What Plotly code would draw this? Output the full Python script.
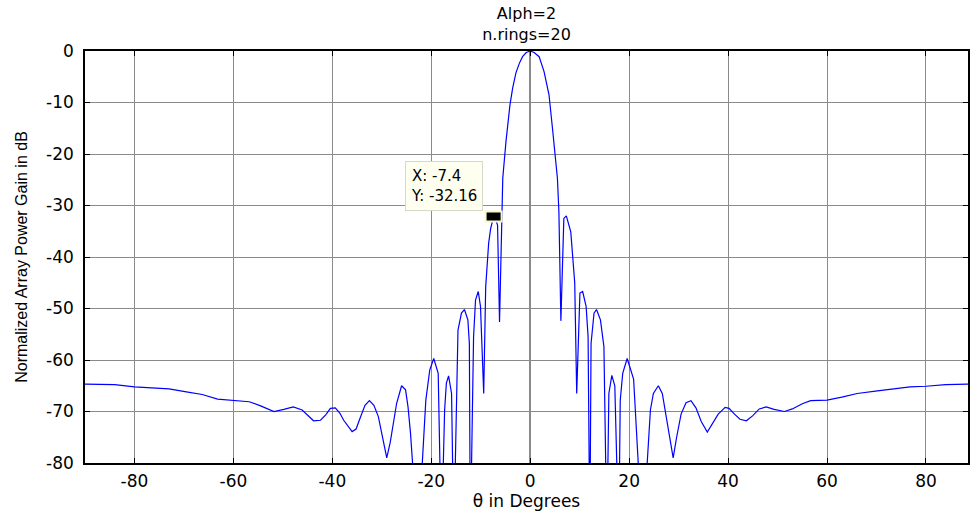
import plotly.graph_objects as go

# Angle (degrees) and normalized array power gain (dB)
theta_left = [-90, -86, -84, -80, -76, -73, -69.5, -66.3, -63.2, -60, -56.8, -54.5,
              -51.8, -49.8, -47.9, -46.1, -44.8, -43.8, -42.4, -41.3, -40.4, -39.4,
              -38.5, -37.7, -36.0, -35.2, -34.4, -33.4, -32.5, -31.6, -30.7, -29.8,
              -29.0, -28.3, -27.6, -27.0, -26.0, -25.2, -24.7, -24.2, -22.7, -21.1,
              -20.3, -19.5, -18.6, -17.95, -17.3, -16.95, -16.5, -15.9, -15.45, -14.8,
              -14.6, -13.9, -13.3, -12.6, -12.3, -12.1, -11.45, -11.05, -10.5, -10.05,
              -9.4, -9.0, -8.4, -8.0, -7.4, -6.9, -6.6, -6.2, -5.8, -5.55, -4.9, -4.1,
              -3.55, -2.9, -2.2, -1.55, -0.8, 0]
gain_left = [-64.7, -64.7, -64.8, -65.2, -65.4, -65.6, -66.2, -66.7, -67.6, -67.8, -68.1, -68.9,
             -70.0, -69.6, -69.1, -69.7, -71.0, -71.8, -71.7, -70.6, -69.4, -69.3,
             -70.3, -71.7, -73.9, -73.4, -71.3, -68.8, -67.9, -68.8, -71.0, -75.5,
             -79.0, -76.0, -71.5, -68.4, -65.0, -65.8, -69.1, -74.2, -95.0, -67.8,
             -61.9, -59.7, -62.6, -95.0, -69.7, -64.5, -63.1, -66.5, -95.0, -57.4,
             -54.2, -50.9, -50.2, -52.2, -56.8, -95.0, -55.5, -48.3, -46.7, -49.6,
             -66.5, -45.8, -37.3, -34.5, -32.16, -33.0, -33.8, -52.6, -31.2, -24.7, -17.6, -10.5,
             -7.2, -4.3, -2.4, -1.1, -0.3, 0.0]

theta_right = [0.8, 1.8, 2.8, 3.8, 4.5, 5.5, 5.8, 6.2, 6.8, 7.3, 8.2, 9.0, 9.4, 10.05,
               10.6, 11.3, 11.7, 12.05, 12.3, 12.9, 13.4, 14.2, 14.9, 15.5, 15.9, 16.5,
               17.1, 17.9, 18.2, 18.7, 19.6, 20.9, 22.7, 24.3, 24.9, 25.9, 26.7, 27.4,
               28.2, 28.9, 29.6, 30.5, 31.5, 32.5, 33.5, 34.6, 35.8, 36.8, 38.0, 39.4,
               40.2, 41.3, 42.4, 43.7, 45.0, 46.3, 47.7, 49.3, 51.4, 53.0, 55.0, 56.7,
               60, 63, 66.1, 70.2, 73.5, 76.8, 80, 84, 88.4, 90]
gain_right = [-0.3, -1.1, -4.0, -8.5, -15.0, -24.7, -31.2, -52.4, -32.5, -32.0, -35.1, -45.0, -66.5, -47.0,
              -46.7, -49.6, -55.5, -95.0, -56.8, -50.9, -50.2, -52.2, -57.4, -95.0, -66.5, -63.0,
              -65.0, -95.0, -67.8, -62.6, -59.7, -63.7, -95.0, -69.7, -66.5, -65.0, -66.5, -70.5,
              -75.5, -79.0, -75.0, -70.5, -68.3, -67.9, -69.3, -72.0, -74.0, -72.5, -70.5, -69.2,
              -69.4, -70.5, -71.5, -71.8, -70.8, -69.5, -69.1, -69.6, -70.0, -69.5, -68.5, -67.9,
              -67.8, -67.2, -66.5, -66.0, -65.6, -65.2, -65.1, -64.8, -64.7, -64.7]

theta = theta_left + theta_right
gain = gain_left + gain_right

tip_x = -7.4
tip_y = -32.16

x_ticks = [-80, -60, -40, -20, 0, 20, 40, 60, 80]
y_ticks = [0, -10, -20, -30, -40, -50, -60, -70, -80]

FONT = "DejaVu Sans, Liberation Sans, Arial, sans-serif"

fig = go.Figure()
fig.add_trace(go.Scatter(x=theta, y=gain, mode="lines",
                         line=dict(color="#0000ff", width=1.2),
                         showlegend=False, hoverinfo="x+y"))

# data tip marker (black box with pale yellow edge)
fig.add_shape(type="rect", xref="x", yref="y", xsizemode="pixel", ysizemode="pixel",
              xanchor=tip_x, yanchor=tip_y, x0=-8, x1=8, y0=-5, y1=5,
              fillcolor="black", line=dict(color="#f7f7c8", width=2))

fig.add_annotation(x=tip_x, y=tip_y, xref="x", yref="y",
                   text=f"X: {tip_x:g}<br>Y: {tip_y:.2f}",
                   showarrow=True, arrowcolor="rgba(0,0,0,0)", ax=-11, ay=-6,
                   xanchor="right", yanchor="bottom", align="left",
                   font=dict(family=FONT, size=15, color="black"),
                   bgcolor="#fffff0", bordercolor="#d8d8c8", borderwidth=1, borderpad=5)

fig.update_layout(
    width=971, height=513,
    margin=dict(l=85, r=1, t=51, b=50),
    paper_bgcolor="white", plot_bgcolor="white",
    font=dict(family=FONT, size=16, color="black"),
    title=dict(text="Alph=2<br>n.rings=20", x=0.5, xref="paper", xanchor="center",
               y=0.962, yref="container", yanchor="top",
               font=dict(family=FONT, size=16, color="black")),
    xaxis=dict(range=[-90, 88.5], tickvals=x_ticks, ticktext=[str(v) for v in x_ticks],
               showgrid=True, gridcolor="#8a8a8a", gridwidth=1,
               zeroline=True, zerolinecolor="#8a8a8a", zerolinewidth=1.5,
               showline=True, linecolor="black", linewidth=1.5, mirror="ticks",
               ticks="inside", ticklen=5, tickcolor="black",
               ticklabelstandoff=2,
               tickfont=dict(family=FONT, size=17),
               title=dict(text="θ in Degrees", standoff=4,
                          font=dict(family=FONT, size=17))),
    yaxis=dict(range=[-80, 0], tickvals=y_ticks, ticktext=[str(v) for v in y_ticks],
               showgrid=True, gridcolor="#8a8a8a", gridwidth=1, zeroline=False,
               showline=True, linecolor="black", linewidth=1.5, mirror="ticks",
               ticks="inside", ticklen=5, tickcolor="black",
               ticklabelstandoff=6,
               tickfont=dict(family=FONT, size=17),
               title=dict(text="Normalized Array Power Gain in dB", standoff=14,
                          font=dict(family="Liberation Sans Narrow, Liberation Sans, Arial, sans-serif", size=16))),
)

fig.write_html("out.html")
